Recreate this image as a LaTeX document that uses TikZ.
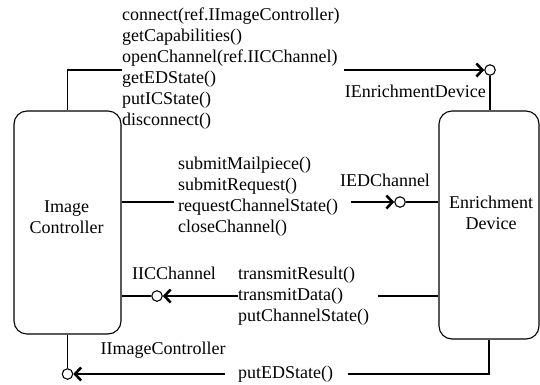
\documentclass[tikz,border=0pt]{standalone}
\usepackage{fontspec}
\setmainfont{Liberation Serif}
\usetikzlibrary{arrows.meta}

\tikzset{
  unit/.style={draw=black, line width=1.1pt, rounded corners=13pt, inner sep=0pt},
  unitlabel/.style={align=center, inner sep=0pt, font=\fontsize{18}{21}\selectfont},
  ops/.style={align=left, inner sep=0pt, anchor=west, font=\fontsize{18}{21}\selectfont},
  iface/.style={inner sep=0pt, font=\fontsize{18}{21}\selectfont},
  port/.style={draw=black, circle, line width=1.1pt, minimum size=10.5pt, inner sep=0pt},
  wire/.style={draw=black, line width=1.1pt},
  call/.style={draw=black, line width=2.6pt, -{Straight Barb[length=6pt, width=13pt, line width=2.6pt]}}
}

\begin{document}
\begin{tikzpicture}[x=1pt, y=-1pt]

  \fill[white] (0,0) rectangle (540,384);
  \useasboundingbox (0,0) rectangle (540,384);

  % --- UNITS ---
  \node[unit, minimum width=107pt, minimum height=223pt] (ic) at (67.5,222.5) {};
  \node[unit, minimum width=100pt, minimum height=228pt] (ed) at (489,225) {};
  \node[unitlabel] (icname) at (66.5,217.5) {Image\\Controller};
  \node[unitlabel] (edname) at (491,213) {Enrichment\\Device};

  % --- PORTS ---
  \node[port] (pIED) at (490,70) {};
  \node[port] (pEDCh) at (400,202) {};
  \node[port] (pICCh) at (157,296) {};
  \node[port] (pIIC) at (67.5,374) {};

  % --- OPERATIONS ---
  \node[ops] (opsIED) at (122,68.5) {connect(ref.IImageController)\\getCapabilities()\\openChannel(ref.IICChannel)\\getEDState()\\putICState()\\disconnect()};
  \node[ops] (opsEDCh) at (178,196.5) {submitMailpiece()\\submitRequest()\\requestChannelState()\\closeChannel()};
  \node[ops] (opsICCh) at (238,296) {transmitResult()\\transmitData()\\putChannelState()};
  \node[ops] (opsIIC) at (238,374) {putEDState()};

  % --- INTERFACE NAMES ---
  \node[iface, anchor=east] (lIED) at (486,91) {IEnrichmentDevice};
  \node[iface] (lEDCh) at (385,180) {IEDChannel};
  \node[iface] (lICCh) at (174,273) {IICChannel};
  \node[iface] (lIIC) at (163,350) {IImageController};

  % --- CONNECTORS ---
  \coordinate (jA) at (122,70);
  \coordinate (aA) at (344,70);
  \coordinate (jB) at (174,202);
  \coordinate (aB) at (351,202);
  \coordinate (aC) at (238,296);
  \coordinate (jC) at (378,296);
  \coordinate (aD) at (225,374);
  \coordinate (jD) at (348,374);

  % Image Controller -> IEnrichmentDevice
  \draw[wire] (ic.north) |- (jA);
  \draw[call] (aA) -- (pIED.west);
  \draw[wire] (pIED.south) -- (pIED |- ed.north);

  % Image Controller -> IEDChannel
  \draw[wire] (jB -| ic.east) -- (jB);
  \draw[call] (aB) -- (pEDCh.west);
  \draw[wire] (pEDCh.east) -- (pEDCh -| ed.west);

  % Enrichment Device -> IICChannel
  \draw[wire] (pICCh.west) -- (pICCh -| ic.east);
  \draw[call] (aC) -- (pICCh.east);
  \draw[wire] (jC) -- (jC -| ed.west);

  % Enrichment Device -> IImageController
  \draw[wire] (ic.south) -- (pIIC.north);
  \draw[call] (aD) -- (pIIC.east);
  \draw[wire] (jD) -| (ed.south);

\end{tikzpicture}
\end{document}
